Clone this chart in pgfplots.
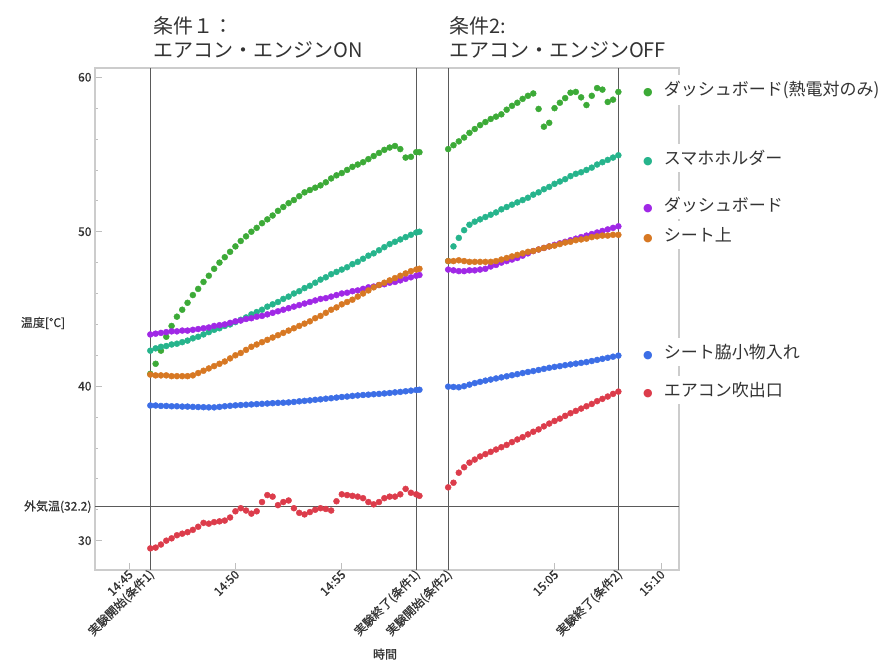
\documentclass[border=0pt]{standalone}
\usepackage{pgfplots}
\pgfplotsset{compat=1.18}
\usepackage{pgfplotstable}
\usepackage{fontspec}
\setmainfont{Noto Sans CJK JP}
\newfontface\mfont{Noto Sans CJK JP}[FakeBold=0.6]
\newfontfamily\dv{DejaVu Sans}
\definecolor{cg}{RGB}{60,170,55}
\definecolor{ct}{RGB}{38,180,140}
\definecolor{cp}{RGB}{160,40,230}
\definecolor{co}{RGB}{215,120,35}
\definecolor{cb}{RGB}{60,110,230}
\definecolor{cr}{RGB}{220,60,75}
\definecolor{vline}{RGB}{90,90,90}
\definecolor{txt}{RGB}{51,51,51}
\newcommand{\lab}[3]{\node[anchor=west, fill=white, inner xsep=1pt, inner ysep=6pt, text=txt] at (axis description cs:0.9366,#1) {{\dv\fontsize{11}{11}\selectfont\textcolor{#2}{●}}\hspace{11pt}\fontsize{17}{17}\selectfont #3};}

\pgfplotstableread{
t g tl p o b r
46.00 40.80 42.30 43.35 40.75 38.75 29.50
46.25 41.45 42.45 43.40 40.70 38.75 29.55
46.50 42.30 42.55 43.45 40.70 38.72 29.75
46.75 43.20 42.60 43.50 40.70 38.72 30.00
47.00 43.90 42.70 43.55 40.65 38.70 30.15
47.25 44.50 42.75 43.55 40.65 38.70 30.35
47.50 44.95 42.85 43.60 40.65 38.68 30.45
47.75 45.40 42.95 43.60 40.65 38.68 30.55
48.00 45.90 43.10 43.65 40.70 38.66 30.70
48.25 46.30 43.20 43.70 40.85 38.65 30.90
48.50 46.75 43.35 43.75 41.00 38.64 31.15
48.75 47.15 43.50 43.80 41.15 38.63 31.10
49.00 47.60 43.65 43.90 41.30 38.63 31.20
49.25 48.00 43.75 43.95 41.45 38.66 31.25
49.50 48.35 43.90 44.00 41.60 38.70 31.30
49.75 48.70 44.00 44.10 41.80 38.73 31.50
50.00 49.05 44.15 44.20 42.00 38.76 31.90
50.25 49.40 44.30 44.25 42.15 38.78 32.10
50.50 49.70 44.45 44.35 42.35 38.80 31.95
50.75 50.00 44.65 44.40 42.55 38.82 31.75
51.00 50.25 44.80 44.50 42.70 38.84 31.90
51.25 50.55 44.95 44.55 42.85 38.86 32.50
51.50 50.80 45.15 44.65 43.00 38.88 32.95
51.75 51.05 45.30 44.75 43.15 38.90 32.85
52.00 51.35 45.45 44.85 43.30 38.92 32.30
52.25 51.60 45.65 44.95 43.45 38.93 32.50
52.50 51.85 45.80 45.05 43.60 38.95 32.60
52.75 52.05 46.00 45.15 43.75 38.98 32.10
53.00 52.30 46.15 45.25 43.90 39.02 31.80
53.25 52.55 46.35 45.35 44.05 39.05 31.70
53.50 52.70 46.50 45.45 44.20 39.08 31.85
53.75 52.85 46.70 45.55 44.40 39.12 32.00
54.00 53.00 46.90 45.65 44.55 39.15 32.10
54.25 53.20 47.05 45.70 44.75 39.19 32.05
54.50 53.45 47.25 45.80 44.95 39.22 31.95
54.75 53.65 47.40 45.90 45.10 39.26 32.55
55.00 53.80 47.55 46.00 45.30 39.30 33.00
55.25 54.00 47.70 46.05 45.45 39.33 32.95
55.50 54.20 47.90 46.15 45.60 39.37 32.90
55.75 54.35 48.05 46.20 45.80 39.40 32.85
56.00 54.50 48.25 46.30 46.00 39.43 32.75
56.25 54.70 48.45 46.40 46.20 39.45 32.50
56.50 54.90 48.60 46.45 46.40 39.48 32.35
56.75 55.10 48.80 46.55 46.55 39.50 32.50
57.00 55.30 49.00 46.60 46.70 39.53 32.75
57.25 55.45 49.20 46.70 46.85 39.56 32.85
57.50 55.55 49.35 46.75 47.00 39.60 32.85
57.75 55.35 49.50 46.85 47.15 39.63 33.00
58.00 54.80 49.65 46.95 47.30 39.67 33.35
58.25 54.85 49.80 47.05 47.45 39.71 33.10
58.50 55.15 49.95 47.15 47.55 39.75 33.00
58.65 55.15 50.00 47.20 47.60 39.77 32.90
}\condA

\pgfplotstableread{
t g tl p o b r
60.00 55.35 48.10 47.55 48.10 39.97 33.45
60.25 55.60 49.05 47.50 48.10 39.95 33.75
60.50 55.85 49.60 47.45 48.15 39.93 34.40
60.75 56.10 50.10 47.45 48.10 40.00 34.75
61.00 56.40 50.45 47.50 48.05 40.10 35.05
61.25 56.65 50.65 47.50 48.05 40.20 35.25
61.50 56.90 50.80 47.55 48.05 40.28 35.45
61.75 57.10 50.95 47.60 48.05 40.36 35.60
62.00 57.30 51.10 47.75 48.05 40.43 35.75
62.25 57.45 51.25 47.85 48.10 40.50 35.90
62.50 57.60 51.45 48.00 48.20 40.57 36.05
62.75 57.90 51.60 48.10 48.30 40.64 36.20
63.00 58.15 51.75 48.20 48.40 40.71 36.38
63.25 58.35 51.90 48.30 48.50 40.78 36.55
63.50 58.60 52.05 48.45 48.60 40.85 36.70
63.75 58.80 52.20 48.60 48.70 40.92 36.88
64.00 58.95 52.40 48.75 48.75 40.98 37.05
64.25 57.95 52.55 48.85 48.85 41.05 37.20
64.50 56.80 52.75 48.95 48.95 41.12 37.40
64.75 57.05 52.90 49.05 49.05 41.19 37.58
65.00 58.00 53.10 49.15 49.10 41.25 37.75
65.25 58.35 53.25 49.25 49.20 41.30 37.90
65.50 58.65 53.40 49.35 49.30 41.36 38.08
65.75 59.00 53.60 49.45 49.35 41.41 38.25
66.00 59.05 53.75 49.55 49.45 41.46 38.40
66.25 58.70 53.85 49.65 49.50 41.51 38.55
66.50 58.20 54.00 49.75 49.55 41.56 38.70
66.75 58.80 54.15 49.85 49.65 41.63 38.85
67.00 59.30 54.35 49.95 49.70 41.70 39.03
67.25 59.20 54.50 50.05 49.75 41.77 39.18
67.50 58.40 54.65 50.15 49.75 41.84 39.33
67.75 58.55 54.80 50.25 49.80 41.91 39.50
68.00 59.05 54.95 50.35 49.80 41.98 39.65
}\condB

\begin{document}
\begin{tikzpicture}
\begin{axis}[
  at={(0pt,0pt)}, anchor=south west,
  scale only axis, width=584pt, height=502pt,
  xmin=43.4, xmax=70.85, ymin=28.1, ymax=60.6,
  xtick={45,46,50,55,58.5,60,65,68,70},
  xticklabels={14:45,実験開始(条件1),14:50,14:55,実験終了(条件1),実験開始(条件2),15:05,実験終了(条件2),15:10},
  ytick={30,32.2,40,50,60},
  yticklabels={30,外気温(32.2),40,50,60},
  minor ytick={32,34,36,38,42,44,46,48,52,54,56,58},
  tick align=inside, tick pos=left,
  major tick length=7pt, minor tick length=3.5pt,
  tick style={gray!50, line width=0.8pt},
  axis line style={gray!40, line width=1.3pt},
  tick label style={font=\mfont\fontsize{12}{12}\selectfont, text=txt},
  xticklabel style={rotate=45, anchor=east, xshift=3pt, yshift=-3pt},
  /pgf/number format/assume math mode=true,
  clip=false,
]
\addplot[only marks, mark=*, mark size=3pt, color=cg] table[x=t,y=g] {\condA};
\addplot[only marks, mark=*, mark size=3pt, color=cg] table[x=t,y=g] {\condB};
\addplot[only marks, mark=*, mark size=3pt, color=ct] table[x=t,y=tl] {\condA};
\addplot[only marks, mark=*, mark size=3pt, color=ct] table[x=t,y=tl] {\condB};
\addplot[only marks, mark=*, mark size=3pt, color=cp] table[x=t,y=p] {\condA};
\addplot[only marks, mark=*, mark size=3pt, color=cp] table[x=t,y=p] {\condB};
\addplot[only marks, mark=*, mark size=3pt, color=co] table[x=t,y=o] {\condA};
\addplot[only marks, mark=*, mark size=3pt, color=co] table[x=t,y=o] {\condB};
\addplot[only marks, mark=*, mark size=3pt, color=cb] table[x=t,y=b] {\condA};
\addplot[only marks, mark=*, mark size=3pt, color=cb] table[x=t,y=b] {\condB};
\addplot[only marks, mark=*, mark size=3pt, color=cr] table[x=t,y=r] {\condA};
\addplot[only marks, mark=*, mark size=3pt, color=cr] table[x=t,y=r] {\condB};

\draw[vline, line width=1.2pt] (axis cs:46,28.1) -- (axis cs:46,60.6);
\draw[vline, line width=1.2pt] (axis cs:58.5,28.1) -- (axis cs:58.5,60.6);
\draw[vline, line width=1.2pt] (axis cs:60.014,28.1) -- (axis cs:60.014,60.6);
\draw[vline, line width=1.2pt] (axis cs:68,28.1) -- (axis cs:68,60.6);
\draw[vline, line width=1.2pt] (axis cs:43.4,32.2) -- (axis cs:70.85,32.2);

\node[anchor=base west, inner sep=0, text=txt, font=\fontsize{20}{20}\selectfont] at (axis description cs:0.0993,1.0697) {条件１：};
\node[anchor=base west, inner sep=0, text=txt, font=\fontsize{20}{20}\selectfont] at (axis description cs:0.0993,1.0219) {エアコン・エンジンON};
\node[anchor=base west, inner sep=0, text=txt, font=\fontsize{20}{20}\selectfont] at (axis description cs:0.606,1.0697) {条件2:};
\node[anchor=base west, inner sep=0, text=txt, font=\fontsize{20}{20}\selectfont] at (axis description cs:0.606,1.0219) {エアコン・エンジンOFF};

\node[text=txt, font=\mfont\fontsize{12}{12}\selectfont] at (axis description cs:-0.089,0.492) {温度[°C]};
\node[anchor=north, text=txt, font=\mfont\fontsize{12}{12}\selectfont] at (axis description cs:0.4966,-0.1494) {時間};

\lab{0.956}{cg}{ダッシュボード(熱電対のみ)}
\lab{0.8207}{ct}{スマホホルダー}
\lab{0.7271}{cp}{ダッシュボード}
\lab{0.6673}{co}{シート上}
\lab{0.4343}{cb}{シート脇小物入れ}
\lab{0.3586}{cr}{エアコン吹出口}
\end{axis}
\pgfresetboundingbox
\path[use as bounding box] (-95pt,-89pt) rectangle (789pt,570pt);
\end{tikzpicture}
\end{document}
